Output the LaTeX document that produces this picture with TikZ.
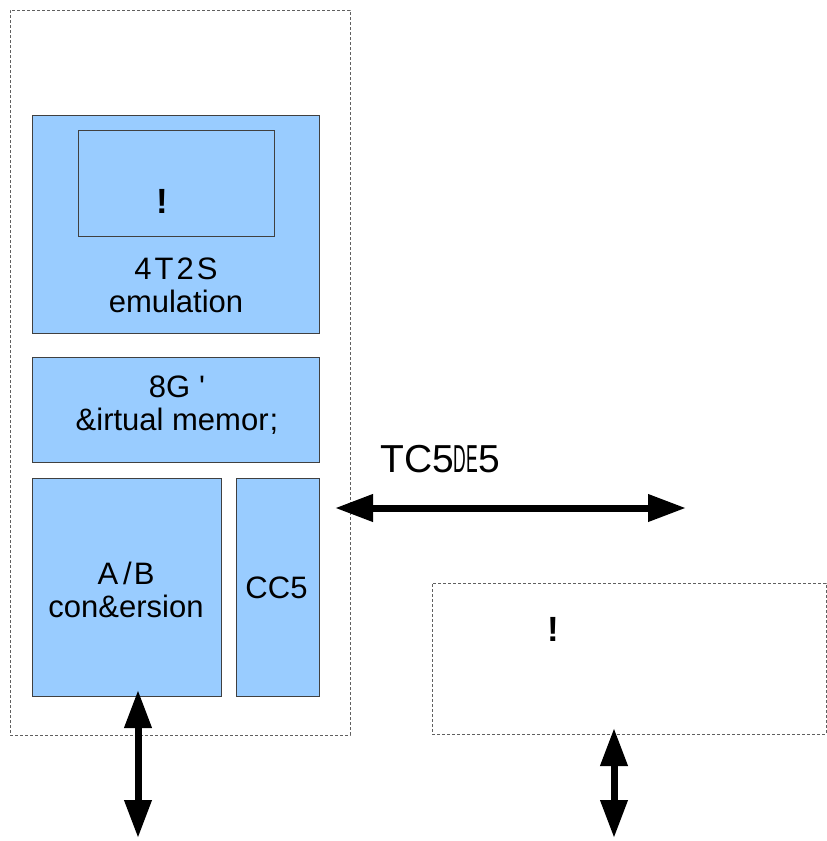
\documentclass[tikz,border=0pt]{standalone}
\usepackage{fontspec}
\setmainfont{Liberation Sans}
\usetikzlibrary{arrows.meta}
\definecolor{boxblue}{HTML}{99CCFF}
\definecolor{edgegray}{HTML}{404040}
\definecolor{dashgray}{HTML}{606060}
\begin{document}
\begin{tikzpicture}[x=1pt,y=-1pt,
  bluebox/.style={draw=edgegray,line width=0.9pt,fill=boxblue,inner sep=0pt,rectangle},
  dashbox/.style={draw=dashgray,line width=0.8pt,dash pattern=on 3pt off 2pt,inner sep=0pt,rectangle},
  plainbox/.style={draw=edgegray,line width=0.9pt,inner sep=0pt,rectangle},
  lbl/.style={font=\fontsize{31}{33}\selectfont,align=center,inner sep=0pt},
  bang/.style={font=\fontsize{35}{36}\selectfont\bfseries,inner sep=0pt},
  bigarrow/.style={line width=7pt,{Triangle[length=38pt,width=26pt]}-{Triangle[length=38pt,width=26pt]}}
]
\useasboundingbox (0,0) rectangle (827,841);
% outer dashed container
\node[dashbox,minimum width=340pt,minimum height=725pt] (outer) at (180,372.5) {};
% right dashed box
\node[dashbox,minimum width=394pt,minimum height=151pt] (rbox) at (629,658.5) {};
\node[bang] (rbang) at (553,629) {!};
% blue boxes
\node[bluebox,minimum width=287pt,minimum height=218pt] (emu) at (175.5,224) {};
\node[plainbox,minimum width=196pt,minimum height=106pt] (inner) at (176,183) {};
\node[bang] (ibang) at (162,201) {!};
\node[lbl] (emutxt) at (176,285) {4\kern3pt T\kern3pt 2\kern3pt S\\emulation};
\node[bluebox,minimum width=287pt,minimum height=105pt] (vm) at (175.5,409.5) {};
\node[lbl] (vmtxt) at (177,405) {8G\hspace{9pt}\textquotesingle\\\&irtual memor\kern1pt;};
\node[bluebox,minimum width=189pt,minimum height=218pt] (ab) at (126.5,587) {};
\node[lbl] (abtxt) at (126,590) {A\kern5pt/\kern2pt B\\con\&ersion};
\node[bluebox,minimum width=83pt,minimum height=218pt] (cc) at (277.5,587) {};
\node[lbl] (cctxt) at (276.5,588) {CC5};
% label over horizontal arrow
\node[font=\fontsize{39}{42}\selectfont,anchor=base west,inner sep=0pt] (tc) at (380,472) {TC5\scalebox{0.45}[1]{DE}5};
% arrows
\coordinate (h1) at (335,508);
\coordinate (h2) at (686,508);
\coordinate (l1) at (138,690);
\coordinate (l2) at (138,838);
\coordinate (r1) at (614,728);
\coordinate (r2) at (614,838);
\draw[bigarrow] (h1) -- (h2);
\draw[bigarrow] (l1) -- (l2);
\draw[bigarrow] (r1) -- (r2);
\end{tikzpicture}
\end{document}
